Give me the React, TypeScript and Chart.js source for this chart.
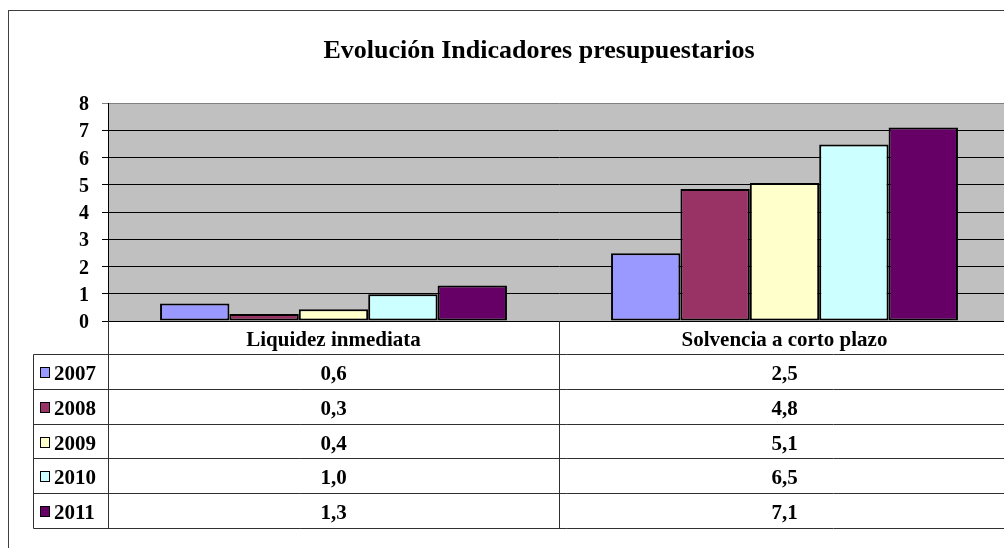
import React, { useEffect, useRef } from "react";
import { Chart, registerables } from "chart.js";

Chart.register(...registerables);

const TITLE = "Evolución Indicadores presupuestarios";
const categories = ["Liquidez inmediata", "Solvencia a corto plazo"];
const years = ["2007", "2008", "2009", "2010", "2011"];
const values2007 = [0.64, 2.49];
const values2008 = [0.26, 4.84];
const values2009 = [0.43, 5.06];
const values2010 = [0.98, 6.48];
const values2011 = [1.3, 7.1];
const seriesValues = [values2007, values2008, values2009, values2010, values2011];
const colors = ["#9999FF", "#993366", "#FFFFCC", "#CCFFFF", "#660066"];
const yTicks = [0, 1, 2, 3, 4, 5, 6, 7, 8];

const FONT = "'Liberation Serif', serif";
const W = 1100;
const H = 548;

const fmt = (v: number) => v.toFixed(1).replace(".", ",");

const decorPlugin = {
  id: "decor",
  beforeDraw(chart: any) {
    const { ctx, chartArea } = chart;
    ctx.save();
    ctx.fillStyle = "#ffffff";
    ctx.fillRect(0, 0, W, H);
    ctx.fillStyle = "#C0C0C0";
    ctx.fillRect(chartArea.left, chartArea.top, chartArea.right - chartArea.left, chartArea.bottom - chartArea.top);
    ctx.strokeStyle = "#404040";
    ctx.lineWidth = 1;
    ctx.strokeRect(8.5, 10.5, W + 20, H + 20);
    ctx.restore();
  },
  afterDraw(chart: any) {
    const { ctx, chartArea } = chart;
    const xs = chart.scales.x;
    ctx.save();
    // title
    ctx.fillStyle = "#000";
    ctx.font = `bold 26px ${FONT}`;
    ctx.textAlign = "center";
    ctx.textBaseline = "alphabetic";
    ctx.fillText(TITLE, 539, 58);

    const headTop = chartArea.bottom;
    const headH = 33;
    const rowH = 34.8;
    const tableTop = headTop + headH;
    const tableBottom = tableTop + rowH * years.length;
    const legendLeft = 33;
    const left = chartArea.left;
    const mid = (xs.getPixelForValue(0) + xs.getPixelForValue(1)) / 2;
    const r = (v: number) => Math.round(v) + 0.5;

    ctx.strokeStyle = "#303030";
    ctx.lineWidth = 1;
    ctx.beginPath();
    ctx.moveTo(r(left), headTop);
    ctx.lineTo(r(left), r(tableBottom));
    ctx.moveTo(r(mid), headTop);
    ctx.lineTo(r(mid), r(tableBottom));
    ctx.moveTo(r(legendLeft), r(tableTop));
    ctx.lineTo(r(legendLeft), r(tableBottom));
    for (let i = 0; i <= years.length; i++) {
      const y = r(tableTop + rowH * i);
      ctx.moveTo(r(legendLeft), y);
      ctx.lineTo(W, y);
    }
    ctx.stroke();

    // category headers
    ctx.font = `bold 21px ${FONT}`;
    ctx.textBaseline = "alphabetic";
    ctx.textAlign = "center";
    categories.forEach((c, i) => {
      ctx.fillText(c, xs.getPixelForValue(i), headTop + 25);
    });

    // rows
    years.forEach((yr, j) => {
      const top = tableTop + rowH * j;
      const sq = Math.round(top + 13);
      ctx.fillStyle = colors[j];
      ctx.fillRect(40, sq, 10, 11);
      ctx.strokeStyle = "#000";
      ctx.strokeRect(40.5, sq + 0.5, 9, 10);
      ctx.fillStyle = "#000";
      ctx.textAlign = "left";
      ctx.fillText(yr, 54, top + 26);
      ctx.textAlign = "center";
      seriesValues[j].forEach((v, i) => {
        ctx.fillText(fmt(v), xs.getPixelForValue(i), top + 26);
      });
    });
    ctx.restore();
  },
};

export default function App() {
  const ref = useRef<HTMLCanvasElement | null>(null);
  useEffect(() => {
    if (!ref.current) return;
    const chart = new Chart(ref.current, {
      type: "bar",
      data: {
        labels: categories,
        datasets: years.map((yr, j) => ({
          label: yr,
          data: seriesValues[j],
          backgroundColor: colors[j],
          borderColor: "#000",
          borderWidth: 2,
          borderSkipped: false,
          categoryPercentage: 5 / 6.5,
          barPercentage: 1,
        })),
      },
      options: {
        responsive: false,
        animation: false,
        devicePixelRatio: 1,
        layout: { padding: { top: 103, bottom: H - 321, left: 0, right: W - 1010 } },
        plugins: { legend: { display: false }, tooltip: { enabled: false }, title: { display: false } },
        scales: {
          x: { display: false },
          y: {
            min: 0,
            max: 8,
            afterFit: (s: any) => {
              s.width = 108;
            },
            afterBuildTicks: (s: any) => {
              s.ticks = yTicks.map((v) => ({ value: v }));
            },
            ticks: {
              color: "#000",
              font: { family: FONT, weight: "bold", size: 20 },
              padding: 13,
              labelOffset: 2,
            },
            grid: {
              color: (c: any) => (c.tick && c.tick.value === 8 ? "#808080" : "#000"),
              lineWidth: 1,
              tickLength: 6,
              drawTicks: true,
            },
            border: { color: "#000", width: 1 },
          },
        },
      } as any,
      plugins: [decorPlugin],
    });
    return () => chart.destroy();
  }, []);
  return (
    <div style={{ position: "fixed", left: 0, top: 0, width: 1004, height: 548, overflow: "hidden", background: "#fff" }}>
      <canvas ref={ref} width={W} height={H} style={{ display: "block", width: W, height: H }} />
    </div>
  );
}
